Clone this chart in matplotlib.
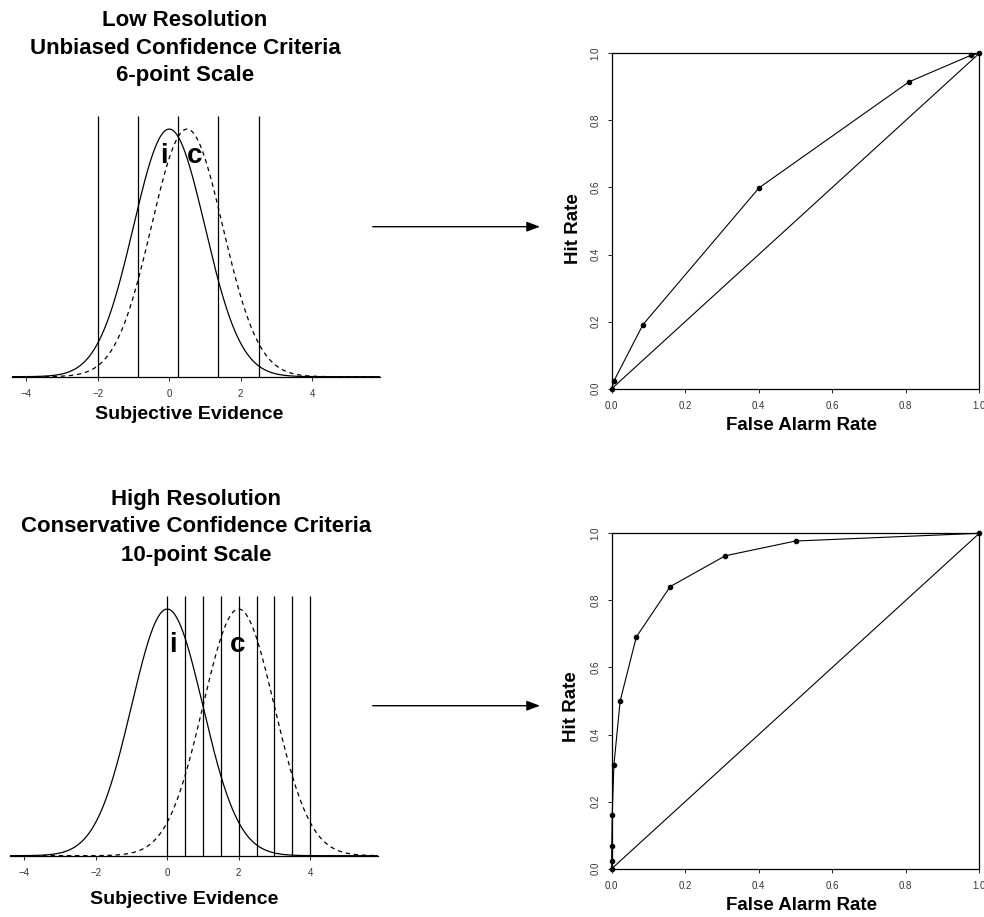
import numpy as np
import matplotlib
matplotlib.use('Agg')
import matplotlib.pyplot as plt
from matplotlib.patches import FancyArrowPatch

plt.rcParams['font.family'] = ['Liberation Sans', 'DejaVu Sans']

# 分布参数
sd = 1.0
low_means = [0.0, 0.5]          # i, c
high_means = [0.0, 2.0]
low_criteria = [-2.0, -0.875, 0.25, 1.375, 2.5]
high_criteria = [0.0, 0.5, 1.0, 1.5, 2.0, 2.5, 3.0, 3.5, 4.0]
ev_ticks = [-4, -2, 0, 2, 4]

# ROC 点
low_fa = [0, 0.006, 0.085, 0.401, 0.809, 0.977, 1]
low_hit = [0, 0.023, 0.191, 0.599, 0.915, 0.994, 1]
high_fa = [0, 0.0, 0.0002, 0.0013, 0.006, 0.023, 0.067, 0.159, 0.309, 0.5, 1]
high_hit = [0, 0.023, 0.067, 0.159, 0.309, 0.5, 0.691, 0.841, 0.933, 0.977, 1]
chance = [0, 1]
rate_ticks = [0.0, 0.2, 0.4, 0.6, 0.8, 1.0]

W, H = 984, 917
fig = plt.figure(figsize=(W / 100, H / 100), dpi=100)


def box(l, t, r, b):
    return [l / W, 1 - b / H, (r - l) / W, (b - t) / H]


def pdf(x, m):
    return np.exp(-0.5 * ((x - m) / sd) ** 2) / (sd * np.sqrt(2 * np.pi))


def dist_panel(rect, means, crit, lab_pos):
    ax = fig.add_axes(rect)
    x = np.linspace(-4.4, 5.9, 600)
    ax.plot(x, pdf(x, means[0]), color='black', lw=0.9)
    ax.plot(x, pdf(x, means[1]), color='black', lw=0.9, dashes=(3.5, 3))
    ax.vlines(crit, 0, 0.42, color='black', lw=0.9)
    ax.set_xlim(-4.4, 5.9)
    ax.set_ylim(0, 0.42)
    for s in ['left', 'top', 'right']:
        ax.spines[s].set_visible(False)
    ax.spines['bottom'].set_linewidth(0.9)
    ax.set_yticks([])
    ax.set_xticks(ev_ticks)
    ax.tick_params(axis='x', length=3, width=0.6, pad=6, labelsize=7, labelcolor='#333333')
    for (tx, ty), s in zip(lab_pos, ['i', 'c']):
        ax.text(tx, ty, s, fontsize=20, fontweight='bold', ha='center', va='baseline')
    return ax


def roc_panel(rect, fa, hit):
    ax = fig.add_axes(rect)
    ax.plot(chance, chance, color='black', lw=0.8)
    ax.plot(fa, hit, '-o', color='black', lw=0.8, ms=3, clip_on=False)
    ax.set_xlim(0, 1)
    ax.set_ylim(0, 1)
    for s in ax.spines.values():
        s.set_linewidth(0.9)
    ax.set_xticks(rate_ticks)
    ax.set_yticks(rate_ticks)
    ax.set_xticklabels(['%.1f' % v for v in rate_ticks])
    ax.set_yticklabels(['%.1f' % v for v in rate_ticks], rotation=90, va='center')
    ax.tick_params(length=3, width=0.6, labelsize=7, labelcolor='#333333')
    ax.tick_params(axis='x', pad=6)
    ax.tick_params(axis='y', pad=5)
    return ax


# 左侧：分布图
dist_panel(box(12, 116, 380, 376.7), low_means, low_criteria, [(-0.14, 0.344), (0.70, 0.344)])
dist_panel(box(10, 596, 378, 855.7), high_means, high_criteria, [(0.16, 0.33), (1.98, 0.33)])

# 右侧：ROC
roc_panel(box(611.7, 53.3, 979.3, 388.7), low_fa, low_hit)
roc_panel(box(611.7, 533.3, 979.3, 868.7), high_fa, high_hit)

tkw = dict(fontweight='bold', ha='center', va='center')
# 标题
for y, s in zip([20, 48, 76], ['Low Resolution', 'Unbiased Confidence Criteria', '6-point Scale']):
    fig.text(185 / W, 1 - y / H, s, fontsize=16, **tkw)
for y, s in zip([499, 527, 555], ['High Resolution', 'Conservative Confidence Criteria', '10-point Scale']):
    fig.text(196 / W, 1 - y / H, s, fontsize=16, **tkw)

# 轴标题
fig.text(189.5 / W, 1 - 415 / H, 'Subjective Evidence', fontsize=14, **tkw)
fig.text(184 / W, 1 - 900 / H, 'Subjective Evidence', fontsize=14, **tkw)
fig.text(801 / W, 1 - 426 / H, 'False Alarm Rate', fontsize=13.5, **tkw)
fig.text(801 / W, 1 - 906 / H, 'False Alarm Rate', fontsize=13.5, **tkw)
fig.text(574 / W, 1 - 229 / H, 'Hit Rate', rotation=90, fontsize=13.5, **tkw)
fig.text(572 / W, 1 - 707 / H, 'Hit Rate', rotation=90, fontsize=13.5, **tkw)

# 箭头
for y in [226.7, 705.7]:
    arr = FancyArrowPatch((372.7 / W, 1 - y / H), (540 / W, 1 - y / H),
                          transform=fig.transFigure, arrowstyle='-|>,head_length=0.8,head_width=0.3',
                          mutation_scale=10, color='black', lw=1.0, shrinkA=0, shrinkB=0)
    fig.add_artist(arr)

plt.savefig('out.png', dpi=100)
